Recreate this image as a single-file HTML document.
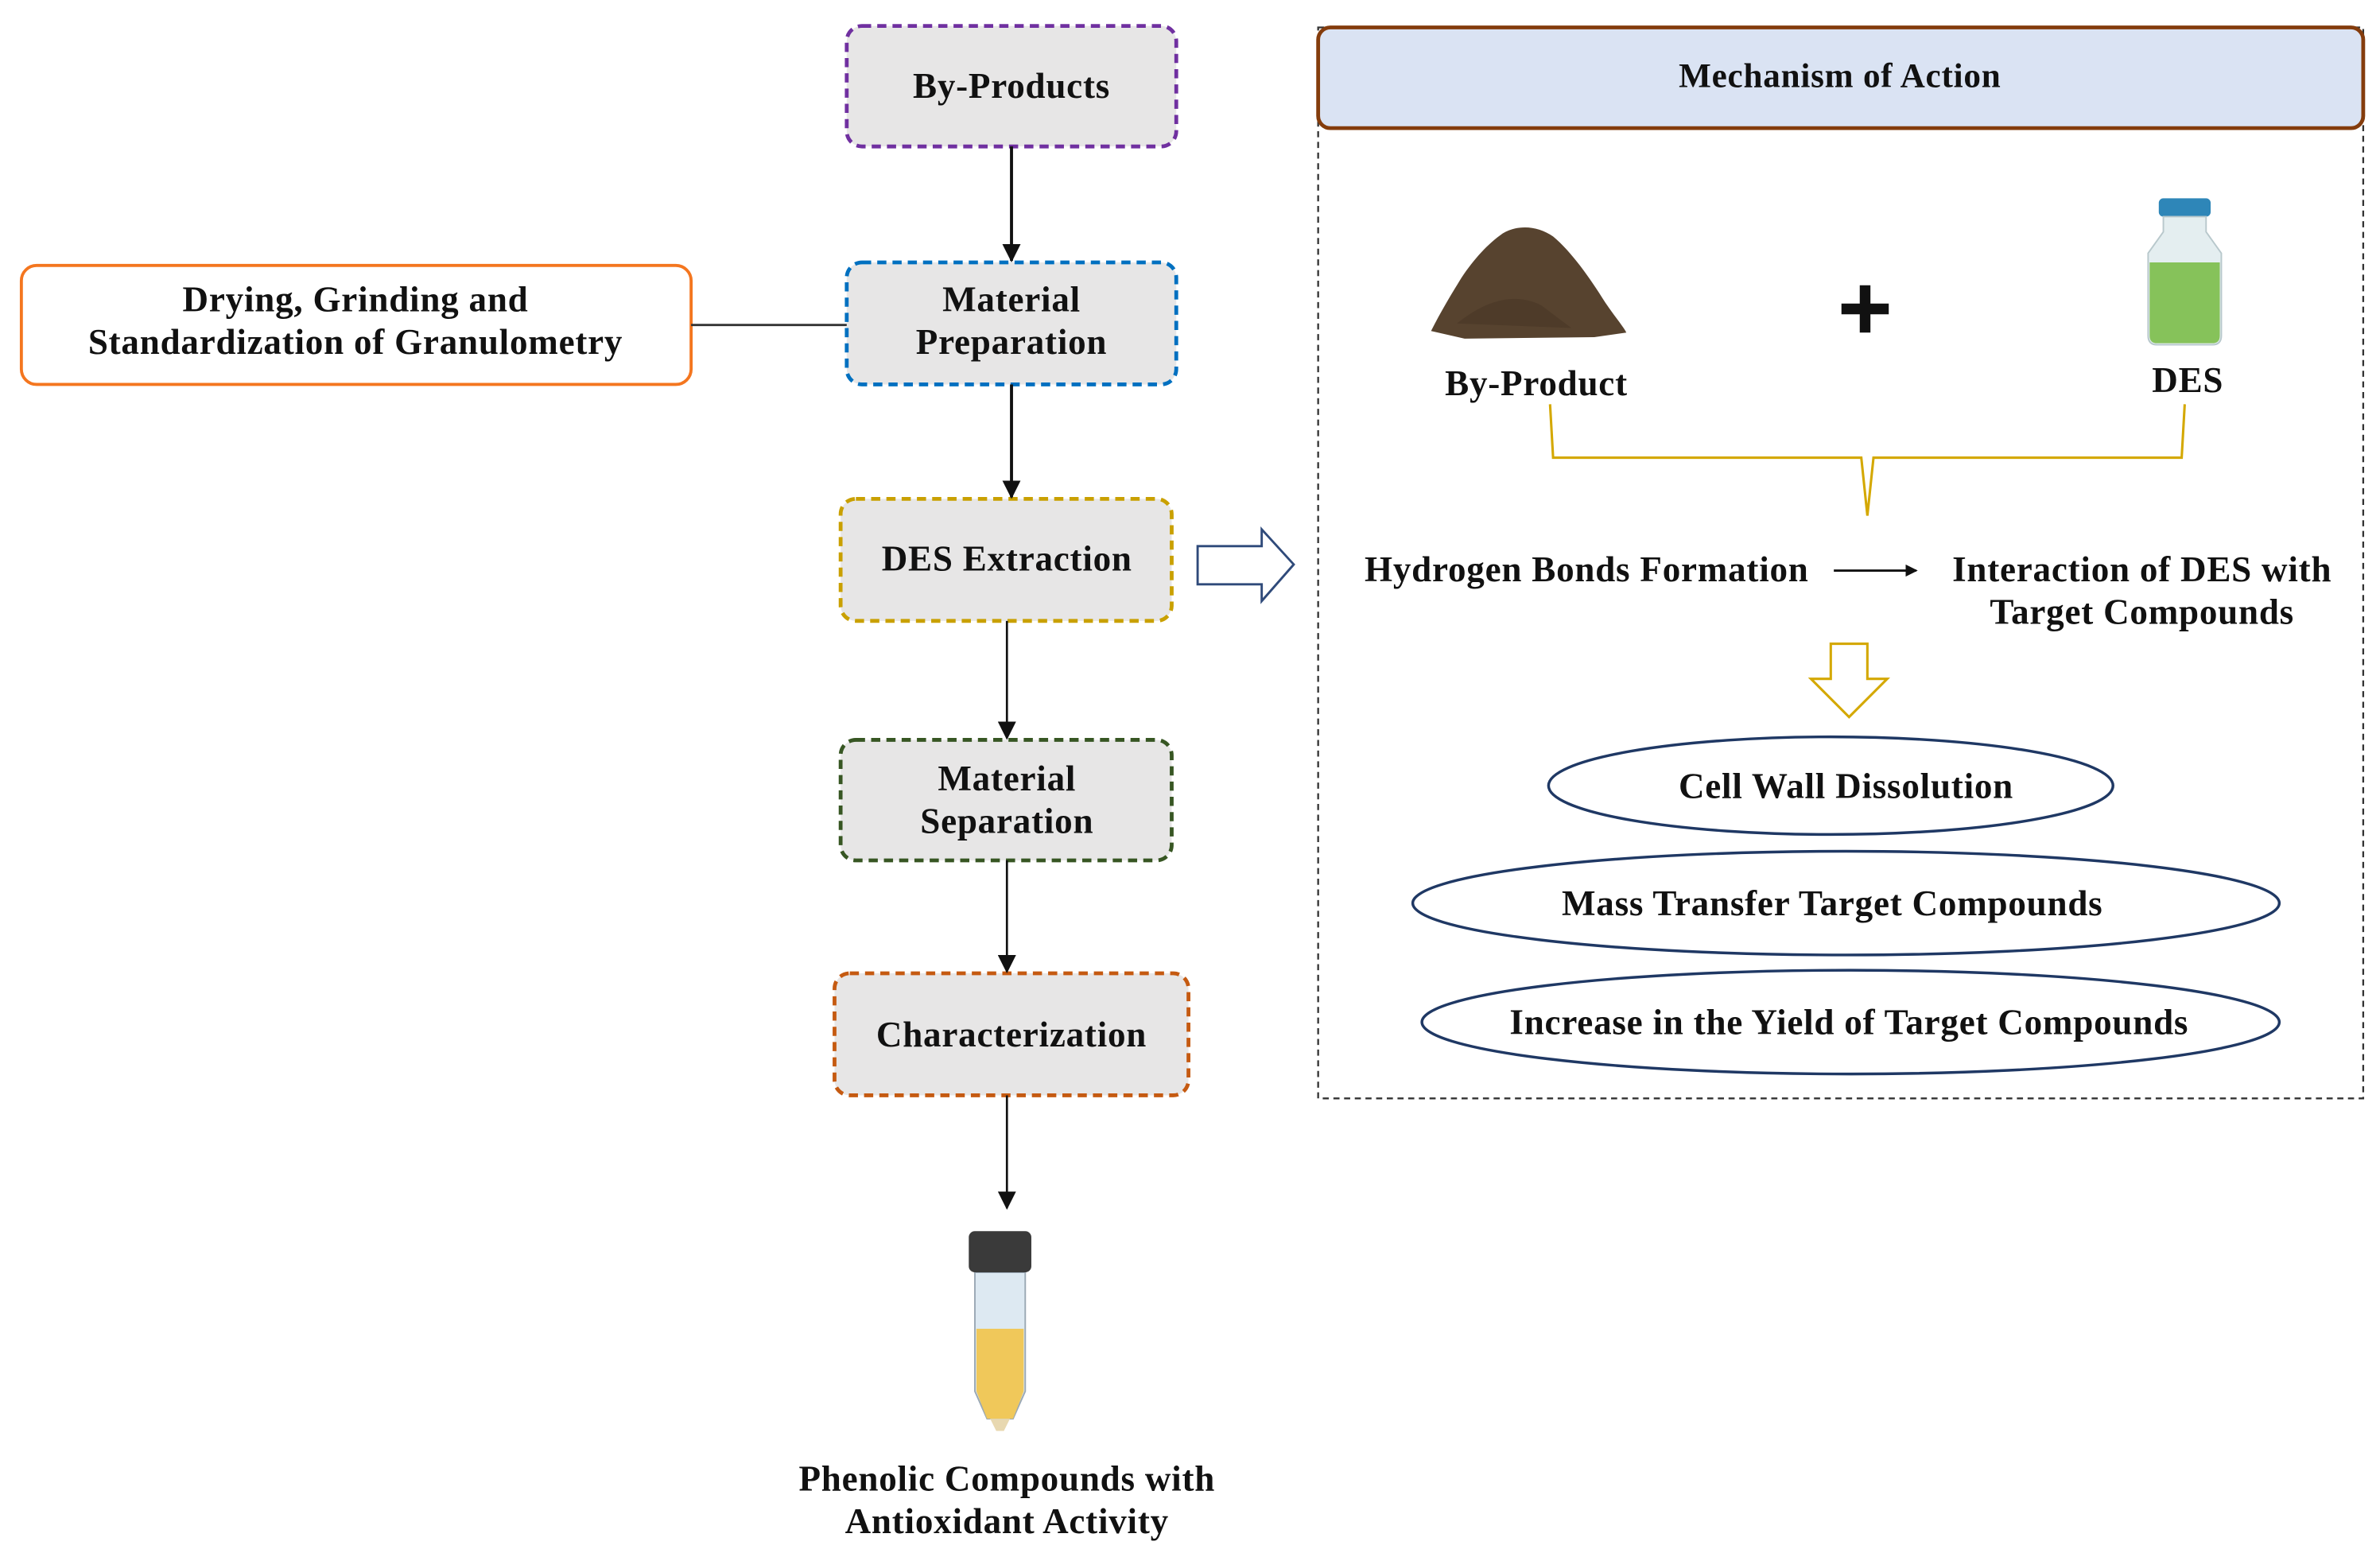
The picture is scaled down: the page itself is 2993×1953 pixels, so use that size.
<!DOCTYPE html>
<html><head><meta charset="utf-8"><style>
html,body{margin:0;padding:0;background:#fff}
svg{display:block}
text{font-family:"Liberation Serif",serif;font-weight:bold;fill:#111;letter-spacing:0.4px}
</style></head><body>
<svg width="2993" height="1953" viewBox="0 0 1560 1018" preserveAspectRatio="none" xmlns="http://www.w3.org/2000/svg">
<defs>
<marker id="ah" markerWidth="8" markerHeight="8" refX="7" refY="4" orient="auto" markerUnits="userSpaceOnUse"><path d="M0,0 L8,4 L0,8 Z" fill="#111"/></marker>
<marker id="ah2" markerWidth="12" markerHeight="12" refX="11" refY="6" orient="auto" markerUnits="userSpaceOnUse"><path d="M0,0 L12,6 L0,12 Z" fill="#111"/></marker>
</defs>
<rect width="1560" height="1018" fill="#fff"/>

<g stroke-width="2.5" stroke-dasharray="6,4" fill="#e7e6e6">
<rect x="555" y="17" width="216" height="79" rx="10" stroke="#7030a0"/>
<rect x="555" y="172" width="216" height="80" rx="10" stroke="#0070c0"/>
<rect x="551" y="327" width="217" height="80" rx="10" stroke="#c9a000"/>
<rect x="551" y="485" width="217" height="79" rx="10" stroke="#375623"/>
<rect x="547" y="638" width="232" height="80" rx="10" stroke="#c55a11"/>
</g>
<rect x="14" y="174" width="439" height="78" rx="10" fill="#fff" stroke="#f4761f" stroke-width="2"/>
<line x1="453" y1="213" x2="555" y2="213" stroke="#333" stroke-width="1.5"/>

<g stroke="#111" stroke-width="2">
<line x1="663" y1="96" x2="663" y2="171" marker-end="url(#ah2)"/>
<line x1="663" y1="252" x2="663" y2="326" marker-end="url(#ah2)"/>
<line x1="660" y1="407" x2="660" y2="484" marker-end="url(#ah2)" stroke-width="1.4"/>
<line x1="660" y1="564" x2="660" y2="637" marker-end="url(#ah2)" stroke-width="1.4"/>
<line x1="660" y1="718" x2="660" y2="792" marker-end="url(#ah2)" stroke-width="1.4"/>
</g>

<g font-size="23.5" text-anchor="middle">
<text x="663" y="64">By-Products</text>
<text x="663" y="204">Material</text>
<text x="663" y="232">Preparation</text>
<text x="660" y="374">DES Extraction</text>
<text x="660" y="518">Material</text>
<text x="660" y="546">Separation</text>
<text x="663" y="686">Characterization</text>
<text x="233" y="204">Drying, Grinding and</text>
<text x="233" y="232">Standardization of Granulometry</text>
<text x="660" y="977">Phenolic Compounds with</text>
<text x="660" y="1005">Antioxidant Activity</text>
</g>

<!-- test tube -->
<path d="M639,834 L672,834 L672,912 L664,930 L647,930 L639,912 Z" fill="#dde9f2" stroke="#9aa8b4" stroke-width="1"/>
<path d="M640,871 L671,871 L671,912 L664,930 L647,930 L640,912 Z" fill="#f0c85a"/>
<rect x="635" y="807" width="41" height="27" rx="4" fill="#3a3a3a"/>
<path d="M649,930 L662,930 L658,938 L653,938 Z" fill="#e8d8b0"/>

<path d="M785,358 L827,358 L827,347 L848,370 L827,394 L827,383 L785,383 Z" fill="#fff" stroke="#2f4a7a" stroke-width="1.5"/>

<rect x="864" y="18" width="685" height="702" fill="none" stroke="#333" stroke-width="1.2" stroke-dasharray="4,3"/>
<rect x="864" y="18" width="685" height="66" rx="8" fill="#dae3f3" stroke="#843c0c" stroke-width="2.5"/>
<text x="1206" y="57" font-size="22.5" text-anchor="middle">Mechanism of Action</text>

<!-- soil pile -->
<path d="M938,217 C944,205 950,195 958,182 C966,170 975,160 985,153 C995,147 1008,148 1018,155 C1030,165 1042,182 1052,198 C1058,207 1064,214 1066,218 L1045,221 L960,222 Z" fill="#57432f"/>
<path d="M955,212 C970,200 990,190 1010,200 L1030,215 Z" fill="#4a3826" opacity="0.7"/>
<text x="1007" y="259" font-size="23.5" text-anchor="middle">By-Product</text>

<path d="M1207,199 H1238 V206 H1207 Z M1219,187 H1226 V218 H1219 Z" fill="#111"/>

<!-- bottle -->
<rect x="1415" y="130" width="34" height="12" rx="3" fill="#2e86b8"/>
<path d="M1418,142 L1446,142 L1446,152 L1456,166 L1456,220 Q1456,226 1450,226 L1414,226 Q1408,226 1408,220 L1408,166 L1418,152 Z" fill="#e4eef0" stroke="#b8c8cc" stroke-width="1"/>
<path d="M1409,172 L1455,172 L1455,220 Q1455,225 1450,225 L1414,225 Q1409,225 1409,220 Z" fill="#86c25a"/>
<text x="1434" y="257" font-size="23.5" text-anchor="middle">DES</text>

<path d="M1016,265 L1018,300 L1220,300 L1224,338 L1228,300 L1430,300 L1432,265" fill="none" stroke="#d4a800" stroke-width="1.6"/>

<g font-size="23.5" text-anchor="middle">
<text x="1040" y="381">Hydrogen Bonds Formation</text>
<text x="1404" y="381">Interaction of DES with</text>
<text x="1404" y="409">Target Compounds</text>
</g>
<line x1="1202" y1="374" x2="1256" y2="374" stroke="#111" stroke-width="1.5" marker-end="url(#ah)"/>

<path d="M1200,422 L1224,422 L1224,445 L1237,445 L1212,470 L1187,445 L1200,445 Z" fill="#fff" stroke="#d4a800" stroke-width="1.6"/>

<g fill="#fff" stroke="#1f3864" stroke-width="1.8">
<ellipse cx="1200" cy="515" rx="185" ry="32"/>
<ellipse cx="1210" cy="592" rx="284" ry="34"/>
<ellipse cx="1213" cy="670" rx="281" ry="34"/>
</g>
<g font-size="23.5" text-anchor="middle">
<text x="1210" y="523">Cell Wall Dissolution</text>
<text x="1201" y="600">Mass Transfer Target Compounds</text>
<text x="1212" y="678">Increase in the Yield of Target Compounds</text>
</g>
</svg>
</body></html>
